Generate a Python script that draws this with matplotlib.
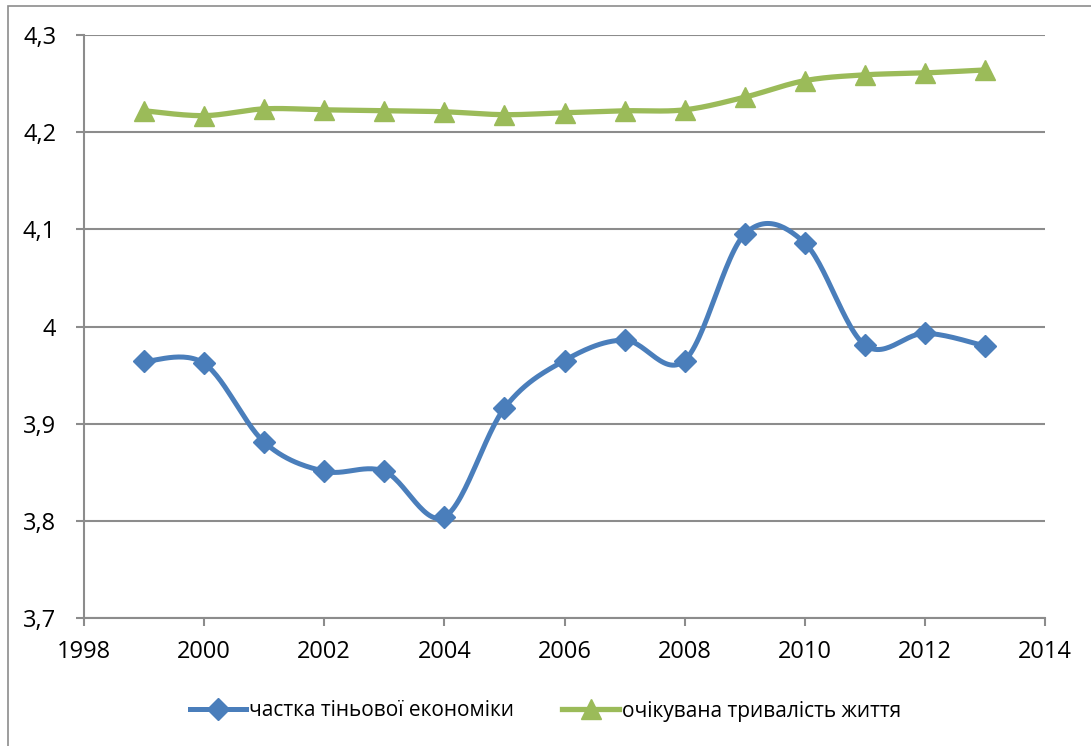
import matplotlib.pyplot as plt
import numpy as np
from matplotlib.patches import Rectangle

years = [1999, 2000, 2001, 2002, 2003, 2004, 2005, 2006, 2007, 2008, 2009, 2010, 2011, 2012, 2013]
shadow_share = [3.964, 3.962, 3.881, 3.851, 3.851, 3.804, 3.916, 3.965, 3.986, 3.965, 4.095, 4.086, 3.981, 3.993, 3.980]
life_expect = [4.222, 4.217, 4.224, 4.223, 4.222, 4.221, 4.218, 4.220, 4.222, 4.223, 4.236, 4.253, 4.259, 4.261, 4.264]

label_shadow = "частка тіньової економіки"
label_life = "очікувана тривалість життя"

plt.rcParams['font.family'] = ['Open Sans', 'DejaVu Sans']


def smooth(xs, ys, n=30):
    # bezier through the points, excel-style smoothing
    x = np.asarray(xs, float)
    y = np.asarray(ys, float)
    px = np.concatenate([[x[0]], x, [x[-1]]])
    py = np.concatenate([[y[0]], y, [y[-1]]])
    out_x, out_y = [], []
    t = np.linspace(0, 1, n)
    for i in range(1, len(px) - 2):
        p0 = np.array([px[i], py[i]])
        p3 = np.array([px[i + 1], py[i + 1]])
        p1 = p0 + (np.array([px[i + 1], py[i + 1]]) - np.array([px[i - 1], py[i - 1]])) / 6
        p2 = p3 - (np.array([px[i + 2], py[i + 2]]) - np.array([px[i], py[i]])) / 6
        b = ((1 - t) ** 3)[:, None] * p0 + (3 * (1 - t) ** 2 * t)[:, None] * p1 \
            + (3 * (1 - t) * t ** 2)[:, None] * p2 + (t ** 3)[:, None] * p3
        out_x.extend(b[:, 0])
        out_y.extend(b[:, 1])
    return out_x, out_y


blue = '#4A7EBB'
green = '#9BBB59'
grid_c = '#8C8C8C'

fig = plt.figure(figsize=(10.91, 7.46), dpi=100)
fig.patches.append(Rectangle((8 / 1091, -0.01), 1.1, 1 - 6 / 746 + 0.01, transform=fig.transFigure,
                             fill=False, edgecolor=grid_c, lw=1.2))
ax = fig.add_axes([84 / 1091, 1 - 618 / 746, (1045 - 84) / 1091, 583 / 746])

sx, sy = smooth(years, shadow_share)
ax.plot(sx, sy, color=blue, lw=3.6, solid_capstyle='round', zorder=3)
ax.plot(years, shadow_share, 'D', color=blue, ms=11, zorder=4)
lx, ly = smooth(years, life_expect)
ax.plot(lx, ly, color=green, lw=3.8, solid_capstyle='round', zorder=3)
ax.plot(years, life_expect, '^', color=green, ms=14, zorder=4)

ax.set_xlim(1998, 2014)
ax.set_ylim(3.7, 4.3)
ax.set_xticks(np.arange(1998, 2015, 2))
yt = np.arange(3.7, 4.31, 0.1)
ax.set_yticks(yt)
ax.set_yticklabels(['4' if abs(v - 4) < 1e-9 else f"{v:.1f}".replace('.', ',') for v in yt])
ax.grid(axis='y', color=grid_c, lw=1.5)
ax.set_axisbelow(True)
for s in ['top', 'right']:
    ax.spines[s].set_visible(False)
for s in ['left', 'bottom']:
    ax.spines[s].set_color(grid_c)
    ax.spines[s].set_linewidth(1.5)
ax.tick_params(axis='both', colors=grid_c, width=1.5, length=6, labelsize=17, labelcolor='black')
ax.tick_params(axis='y', pad=14)
ax.tick_params(axis='x', pad=10)

h1, = ax.plot([], [], color=blue, lw=3.6, marker='D', ms=11)
h2, = ax.plot([], [], color=green, lw=3.8, marker='^', ms=14)
fig.legend([h1, h2], [label_shadow, label_life], loc='center', bbox_to_anchor=(0.5, 1 - 711 / 746),
           ncol=2, frameon=False, fontsize=15, handlelength=2.7, handletextpad=0.15,
           columnspacing=2.3, borderpad=0)

fig.savefig('out.png', dpi=100)
